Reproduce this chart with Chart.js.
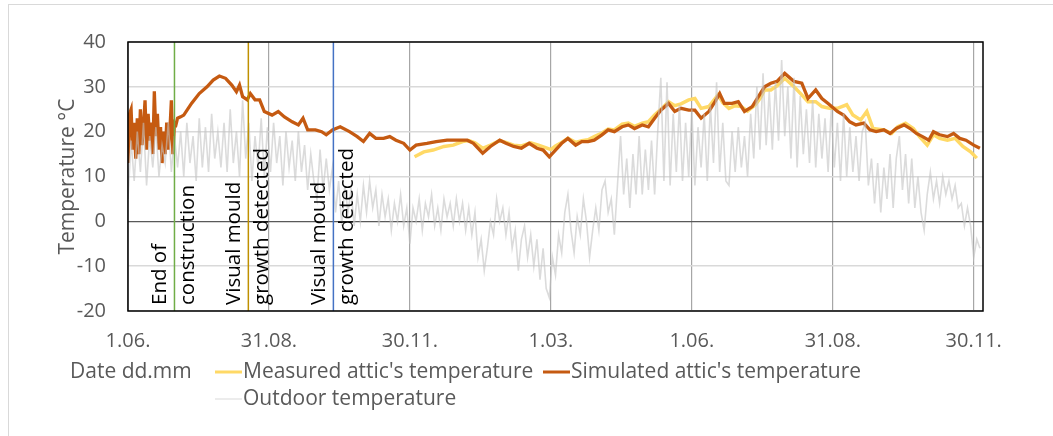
<!DOCTYPE html>
<html>
<head>
<meta charset="utf-8">
<script src="https://cdn.jsdelivr.net/npm/chart.js@4.4.0/dist/chart.umd.min.js"></script>
<style>
  html, body { margin: 0; padding: 0; background: #fff; }
  canvas { display: block; }
</style>
</head>
<body>
<canvas id="myChart" width="1053" height="436"></canvas>
<script>
'use strict';

// x axis is counted in days from the first 1.06.
const tickLabels = ['1.06.', '31.08.', '30.11.', '1.03.', '1.06.', '31.08.', '30.11.'];
const tickStep = 91;
const lastDay = 552;

const eventDays = [30, 77.7, 132.6];
const eventColors = ['#70ad47', '#bf9000', '#4472c4'];
const eventTextBefore = ['End of', 'Visual mould', 'Visual mould'];
const eventTextAfter = ['construction', 'growth detected', 'growth detected'];

const simDays = [0, 1, 2, 3, 4, 5, 6, 7, 8, 9, 10, 11, 12, 13, 14, 15, 16, 17, 18, 19, 20, 21, 22, 23, 24, 25, 26, 27, 28, 29, 30,
    31, 32, 34, 36, 41, 46, 51, 55, 59, 63, 67, 70, 72, 74, 77, 79, 82, 85, 88, 93, 97, 101, 106, 110, 113, 116, 121, 125, 128, 132,
    137, 143, 148, 152, 156, 160, 165, 169, 173, 178, 182, 186, 193, 199, 206, 212, 219, 223, 229, 234, 240, 244, 249, 254, 259, 264,
    268, 272, 276, 280, 284, 289, 293, 297, 301, 306, 310, 314, 319, 323, 327, 332, 336, 340, 344, 349, 353, 357, 362, 366, 370, 375,
    379, 382, 385, 390, 394, 398, 403, 407, 411, 415, 419, 424, 430, 435, 439, 444, 448, 452, 458, 462, 466, 470, 475, 479, 483, 488,
    492, 496, 501, 505, 509, 513, 517, 520, 524, 529, 533, 537, 541, 546, 550];
const simTemps = [13, 24, 25, 16, 22, 14, 23, 15, 25, 17, 21, 27, 16, 24, 18, 22, 15, 29, 19, 24, 16, 21, 13, 20, 15, 22, 16, 20, 27, 15, 22,
    21.6, 23.0, 23.3, 23.7, 26.3, 28.5, 30.0, 31.5, 32.4, 31.9, 30.4, 28.9, 30.4, 27.8, 27.1, 28.5, 27.1, 27.1, 24.5, 23.7, 24.5, 23.3, 22.2, 21.5, 23.0, 20.4, 20.4, 20.0, 19.3, 20.4,
    21.1, 20.0, 18.9, 17.8, 19.6, 18.5, 18.5, 18.9, 18.1, 17.4, 15.9, 17.0, 17.4, 17.8, 18.1, 18.1, 18.1, 17.4, 15.2, 16.7, 18.1, 17.4, 16.7, 16.3, 17.4, 16.3,
    15.9, 14.4, 15.9, 17.4, 18.5, 17.0, 17.8, 17.8, 18.1, 19.3, 20.4, 20.0, 21.1, 21.5, 20.7, 21.5, 21.1, 23.0, 24.8, 26.3, 24.5, 25.2, 24.8, 24.8, 23.0, 24.5,
    26.7, 28.5, 26.3, 26.3, 26.7, 24.5, 25.6, 27.8, 30.0, 30.8, 31.2, 33.0, 31.2, 30.8, 27.4, 29.3, 27.4, 26.3, 24.5, 23.7, 22.2, 21.5, 21.9, 20.4, 20.0, 20.4,
    19.6, 20.7, 21.5, 20.7, 19.6, 18.9, 18.1, 20.0, 19.3, 18.9, 19.6, 18.5, 18.1, 17.0, 16.3];

const measDays = [185, 191, 197, 204, 210, 216, 220, 224, 229, 234, 240, 244, 249, 254, 260, 265, 270, 273, 276, 280, 284, 289, 293, 297,
    301, 306, 310, 314, 319, 323, 327, 332, 336, 340, 345, 349, 353, 357, 362, 366, 370, 375, 381, 384, 388, 392, 396, 400, 405, 408,
    411, 415, 419, 424, 430, 435, 439, 444, 448, 453, 458, 464, 468, 473, 477, 481, 488, 493, 497, 502, 507, 511, 516, 520, 524, 529,
    534, 539, 544, 548];
const measTemps = [14.4, 15.5, 15.9, 16.7, 17.0, 17.8, 18.0, 17.5, 16.3, 17.0, 18.0, 17.6, 17.0, 16.8, 17.5, 17.0, 16.4, 16.0, 16.8, 17.6, 18.5, 17.6, 18.0, 18.2,
    18.9, 19.7, 20.6, 20.4, 21.7, 21.9, 21.2, 21.9, 22.2, 23.7, 25.3, 26.7, 25.8, 26.2, 27.1, 27.4, 25.2, 25.6, 28.2, 26.5, 25.2, 25.8, 25.6, 24.6, 26.0, 27.4,
    29.3, 29.3, 30.2, 31.9, 30.0, 28.2, 26.7, 26.7, 25.6, 25.2, 25.2, 26.0, 23.7, 22.6, 24.5, 20.7, 20.4, 19.6, 21.1, 21.9, 20.7, 18.9, 17.0, 19.3, 18.5, 18.1,
    18.5, 16.7, 15.5, 14.1];

// one reading every outdoorStep days, starting at day 0
const outdoorStep = 2;
const outdoorTemps = [
    5, 18, 9, 20, 11, 22, 8, 19, 12, 21, 10, 17, 13, 22, 11, 19,
    12, 20, 10, 22, 13, 19, 9, 23, 12, 21, 11, 24, 14, 20, 12,
    22, 11, 25, 13, 20, 10, 27, 14, 22, 9, 19, 12, 23, 10, 21,
    11, 22, 13, 19, 8, 20, 12, 18, 9, 20, 11, 17, 7, 15, 9,
    5, 16, 7, 14, 7, 12, 2, 9, -1, 8, 2, 7, -1, 6, 0,
    8, 2, 9, 3, 7, -1, 6, 1, 5, -2, 4, 0, 6, -1, 3,
    -5, 3, 0, 5, -2, 4, 1, 6, -1, 3, -2, 5, 1, 4, -1,
    5, 0, 4, -2, 3, -3, 2, -8, -4, -11, -6, 0, -3, 5, 0,
    3, -3, 2, -6, -2, -11, -4, -1, -8, -3, -10, -4, -13, -6, -15,
    -17, -8, -12, -3, -7, 2, 6, -2, -7, 1, -3, 5, 0, -8, -2,
    3, -2, 7, 9, 2, 5, -3, 8, 19, 6, 14, 3, 15, 6, 19,
    6, 16, 7, 18, 6, 20, 32, 9, 31, 8, 24, 11, 26, 9, 22,
    10, 25, 8, 21, 12, 24, 9, 26, 13, 31, 11, 22, 9, 8, 20,
    11, 21, 12, 19, 10, 24, 14, 30, 16, 33, 17, 29, 16, 31, 18,
    36, 19, 30, 14, 32, 12, 28, 15, 25, 13, 27, 12, 24, 14, 23,
    11, 25, 12, 22, 9, 24, 10, 21, 11, 19, 9, 20, 22, 8, 14,
    4, 13, 2, 12, 5, 15, 3, 14, 19, 7, 15, 4, 14, 3, 10,
    2, -2, 6, 11, 5, 9, 4, 10, 6, 9, 5, 8, 3, 4, -1,
    3, -1, -8, -4, -6
];

const textGrey = '#595959';
const fontFamily = "'Open Sans', 'Noto Sans', sans-serif";

const toPoints = (days, temps) => days.map((d, i) => ({x: d, y: temps[i]}));

/* light frame round the whole chart */
const framePlugin = {
    id: 'frame',
    beforeDraw(chart) {
        const ctx = chart.ctx;
        ctx.save();
        ctx.strokeStyle = '#d9d9d9';
        ctx.lineWidth = 1;
        ctx.strokeRect(8.5, 4.5, chart.width + 10, chart.height + 10);
        ctx.restore();
    }
};

/* event lines with their rotated notes, then the plot border */
const eventPlugin = {
    id: 'events',
    afterDatasetsDraw(chart) {
        const {ctx, chartArea: area, scales: {x}} = chart;
        ctx.save();
        eventDays.forEach(function(day, i) {
            const px = x.getPixelForValue(day);
            ctx.strokeStyle = eventColors[i];
            ctx.lineWidth = 1.5;
            ctx.beginPath();
            ctx.moveTo(px, area.top);
            ctx.lineTo(px, area.bottom);
            ctx.stroke();

            ctx.save();
            ctx.translate(px, area.bottom - 6);
            ctx.rotate(-Math.PI / 2);
            ctx.fillStyle = '#000';
            ctx.font = '20.5px ' + fontFamily;
            ctx.textBaseline = 'middle';
            ctx.textAlign = 'left';
            ctx.fillText(eventTextBefore[i], 0, -14);
            ctx.fillText(eventTextAfter[i], 0, 14);
            ctx.restore();
        });

        ctx.strokeStyle = '#000';
        ctx.lineWidth = 1.5;
        ctx.strokeRect(area.left, area.top, area.right - area.left, area.bottom - area.top);
        ctx.restore();
    }
};

/* legend laid out like the Excel one */
const legendPlugin = {
    id: 'excelLegend',
    afterDraw(chart) {
        const ctx = chart.ctx;
        const spots = [[215, 372], [543, 372], [215, 399]];
        ctx.save();
        ctx.font = '21px ' + fontFamily;
        ctx.fillStyle = textGrey;
        ctx.textBaseline = 'middle';
        ctx.fillText('Date dd.mm', 70, 372);
        chart.data.datasets.forEach(function(ds, i) {
            const [lx, ly] = spots[i];
            ctx.strokeStyle = ds.legendColor;
            ctx.lineWidth = ds.legendWidth;
            ctx.beginPath();
            ctx.moveTo(lx, ly);
            ctx.lineTo(lx + 27, ly);
            ctx.stroke();
            ctx.fillText(ds.label, lx + 28, ly);
        });
        ctx.restore();
    }
};

const ctx = document.getElementById('myChart').getContext('2d');

const chart = new Chart(ctx, {
    type: 'line',
    data: {
        datasets: [{
            label: "Measured attic's temperature",
            data: toPoints(measDays, measTemps),
            borderColor: '#ffd966',
            legendColor: '#ffd966',
            borderWidth: 3.5,
            legendWidth: 3,
            order: 2,
        },
        {
            label: "Simulated attic's temperature",
            data: toPoints(simDays, simTemps),
            borderColor: '#c55a11',
            legendColor: '#c55a11',
            borderWidth: 3.3,
            legendWidth: 3,
            order: 1,
        },
        {
            label: 'Outdoor temperature',
            data: outdoorTemps.map((t, i) => ({x: i * outdoorStep, y: t})),
            borderColor: 'rgba(195, 195, 195, 0.6)',
            legendColor: '#d9d9d9',
            borderWidth: 1.6,
            legendWidth: 1,
            order: 0,
        }]
    },
    options: {
        responsive: false,
        animation: false,
        layout: {padding: {top: 42, right: 70, left: 0, bottom: 0}},
        elements: {point: {radius: 0}, line: {tension: 0}},
        plugins: {
            legend: {display: false},
            tooltip: {enabled: false},
        },
        scales: {
            x: {
                type: 'linear',
                min: 0,
                max: lastDay,
                afterBuildTicks: function(scale) {
                    scale.ticks = tickLabels.map((l, i) => ({value: i * tickStep}));
                },
                afterFit: function(scale) {
                    scale.height = 125;
                },
                ticks: {
                    callback: (v) => tickLabels[Math.round(v / tickStep)],
                    color: textGrey,
                    font: {family: fontFamily, size: 20},
                    padding: 18,
                    maxRotation: 0,
                    autoSkip: false,
                },
                grid: {color: '#a6a6a6', lineWidth: 1.2, drawTicks: false},
                border: {display: false},
            },
            y: {
                min: -20,
                max: 40,
                afterFit: function(scale) {
                    scale.width = 128;
                },
                ticks: {
                    stepSize: 10,
                    color: textGrey,
                    font: {family: fontFamily, size: 20},
                    padding: 22,
                },
                title: {
                    display: true,
                    text: 'Temperature °C',
                    color: textGrey,
                    font: {family: fontFamily, size: 21},
                    padding: {top: 55, bottom: 0},
                },
                grid: {
                    color: (c) => c.tick.value === 0 ? '#595959' : '#d9d9d9',
                    lineWidth: (c) => c.tick.value === 0 ? 1.2 : 1.5,
                    drawTicks: false,
                },
                border: {display: false},
            }
        }
    },
    plugins: [framePlugin, eventPlugin, legendPlugin],
});
</script>
</body>
</html>
